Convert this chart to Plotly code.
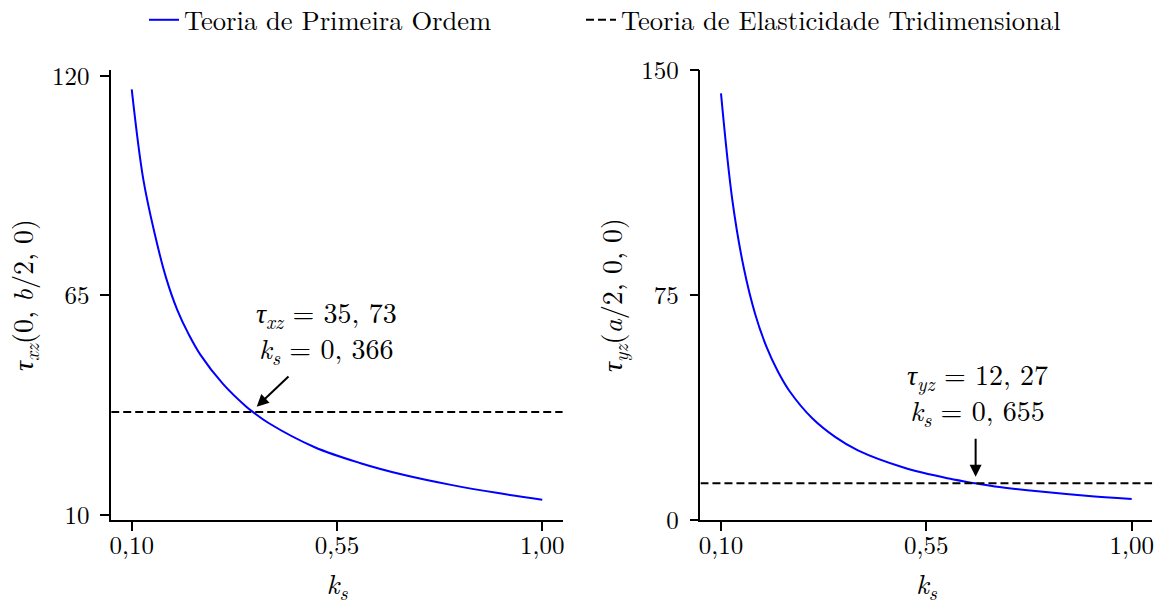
import plotly.graph_objects as go

# ---- data ----
ks_xz = [0.10, 0.125, 0.15, 0.175, 0.20, 0.225, 0.25, 0.30, 0.35, 0.366, 0.40, 0.50, 0.60, 0.70, 0.80, 0.90, 1.00]
tau_xz = [116.6, 94.3, 80.6, 69.5, 61.3, 55.2, 50.2, 42.8, 37.2, 35.73, 33.0, 27.0, 23.0, 19.9, 17.5, 15.5, 13.8]
tau_xz_3d = 35.73
ks_xz_int = 0.366

ks_yz = [0.10, 0.125, 0.15, 0.175, 0.20, 0.225, 0.25, 0.30, 0.35, 0.40, 0.50, 0.60, 0.655, 0.70, 0.80, 0.90, 1.00]
tau_yz = [142.2, 106.5, 84.0, 68.6, 57.6, 49.4, 43.0, 33.9, 27.7, 23.2, 17.5, 13.8, 12.27, 11.2, 9.5, 8.1, 7.0]
tau_yz_3d = 12.27
ks_yz_int = 0.655

x_ticks = [0.10, 0.55, 1.00]
x_ticktext = ["0,10", "0,55", "1,00"]
y_ticks_xz = [10, 65, 120]
y_ticks_yz = [0, 75, 150]

x_range = [0.055, 1.045]
y_range_xz = [8.7, 121.45]
y_range_yz = [0, 150]

FONT = "Latin Modern Roman"
BLUE = "#0000ff"

W, H = 1162, 606
MT, MB = 40, 40
PH = H - MT - MB


def ydom(top_px, bot_px):
    return [(H - MB - bot_px) / PH, (H - MB - top_px) / PH]


def fmt(v, nd):
    return f"{v:.{nd}f}".replace(".", ", ")


fig = go.Figure()

fig.add_trace(go.Scatter(x=ks_xz, y=tau_xz, mode="lines", line=dict(color=BLUE, width=2, shape="spline"),
                         name="Teoria de Primeira Ordem", xaxis="x", yaxis="y", legend="legend"))
fig.add_trace(go.Scatter(x=x_range, y=[tau_xz_3d, tau_xz_3d], mode="lines",
                         line=dict(color="black", width=2, dash="8px,4px"),
                         name="Teoria de Elasticidade Tridimensional", xaxis="x", yaxis="y", legend="legend2"))
fig.add_trace(go.Scatter(x=ks_yz, y=tau_yz, mode="lines", line=dict(color=BLUE, width=2, shape="spline"),
                         showlegend=False, xaxis="x2", yaxis="y2"))
fig.add_trace(go.Scatter(x=x_range, y=[tau_yz_3d, tau_yz_3d], mode="lines",
                         line=dict(color="black", width=2, dash="8px,4px"),
                         showlegend=False, xaxis="x2", yaxis="y2"))

axis_common = dict(showline=True, linecolor="black", linewidth=1.6, ticks="outside", ticklen=9,
                   tickwidth=1.6, tickcolor="black", showgrid=False, zeroline=False, automargin=False,
                   tickfont=dict(family=FONT, size=25, color="black"))

legend_common = dict(orientation="h", xanchor="left", y=(H - MB - 20) / PH, yanchor="middle",
                     font=dict(family=FONT, size=26.6, color="black"), bgcolor="rgba(0,0,0,0)")

yd = ydom(70, 520)
fig.update_layout(
    width=W, height=H, margin=dict(l=0, r=0, t=MT, b=MB, autoexpand=False),
    plot_bgcolor="white", paper_bgcolor="white",
    font=dict(family=FONT, color="black"),
    xaxis=dict(domain=[0.0957, 0.4843], range=x_range, tickvals=x_ticks, ticktext=x_ticktext, ticklabelstandoff=-7,
               anchor="y", title=dict(text="<i>k</i><sub><i>s</i></sub>", font=dict(family=FONT, size=28), standoff=19),
               **axis_common),
    yaxis=dict(domain=yd, range=y_range_xz, tickvals=y_ticks_xz, anchor="x", ticklabelstandoff=6,
               title=dict(text="<i>τ</i><sub><i>xz</i></sub>(0, <i>b</i>/2, 0)", font=dict(family=FONT, size=28), standoff=10),
               **axis_common),
    xaxis2=dict(domain=[0.6028, 0.9916], range=x_range, tickvals=x_ticks, ticktext=x_ticktext, ticklabelstandoff=-7,
                anchor="y2", title=dict(text="<i>k</i><sub><i>s</i></sub>", font=dict(family=FONT, size=28), standoff=19),
                **axis_common),
    yaxis2=dict(domain=yd, range=y_range_yz, tickvals=y_ticks_yz, anchor="x2", ticklabelstandoff=6,
                title=dict(text="<i>τ</i><sub><i>yz</i></sub>(<i>a</i>/2, 0, 0)", font=dict(family=FONT, size=28), standoff=10),
                **axis_common),
    legend=dict(x=144 / W, **legend_common),
    legend2=dict(x=581 / W, **legend_common),
)

fig.add_annotation(x=0.374, y=37.1, ax=0.447, ay=45.0, xref="x", yref="y", axref="x", ayref="y",
                   text="", showarrow=True, arrowhead=2, arrowsize=1.2, arrowwidth=2, arrowcolor="black")
fig.add_annotation(x=0.658, y=14.4, ax=0.658, ay=27.6, xref="x2", yref="y2", axref="x2", ayref="y2",
                   text="", showarrow=True, arrowhead=2, arrowsize=1.2, arrowwidth=2, arrowcolor="black")

fig.add_annotation(x=0.528, y=56.0, xref="x", yref="y", showarrow=False, yanchor="middle",
                   text=f"<i>τ</i><sub><i>xz</i></sub> = {fmt(tau_xz_3d, 2)}<br><i>k</i><sub><i>s</i></sub> = {fmt(ks_xz_int, 3)}",
                   font=dict(family=FONT, size=28, color="black"))
fig.add_annotation(x=0.662, y=42.3, xref="x2", yref="y2", showarrow=False, yanchor="middle",
                   text=f"<i>τ</i><sub><i>yz</i></sub> = {fmt(tau_yz_3d, 2)}<br><i>k</i><sub><i>s</i></sub> = {fmt(ks_yz_int, 3)}",
                   font=dict(family=FONT, size=28, color="black"))

fig.write_html("out.html")
